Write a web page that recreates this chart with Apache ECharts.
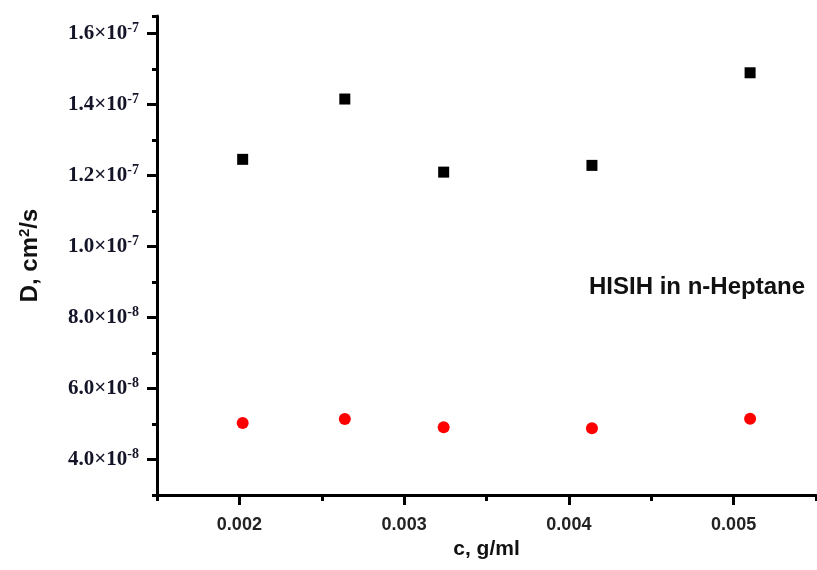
<!DOCTYPE html>
<html>
<head>
<meta charset="utf-8">
<script src="https://cdn.jsdelivr.net/npm/echarts@6/dist/echarts.min.js"></script>
<style>html,body{margin:0;padding:0;background:#fff}#c{width:817px;height:570px}</style>
</head>
<body>
<div id="c"></div>
<script>
const concentrations = [0.00202, 0.00264, 0.00324, 0.00414, 0.00510];
const seriesBlack = [1.246e-7, 1.416e-7, 1.210e-7, 1.229e-7, 1.490e-7];
const seriesRed = [5.03e-8, 5.14e-8, 4.91e-8, 4.88e-8, 5.15e-8];
const xMajorTicks = [0.002, 0.003, 0.004, 0.005];
const xTickLabels = ['0.002', '0.003', '0.004', '0.005'];
const yMajorTicks = [4e-8, 6e-8, 8e-8, 1e-7, 1.2e-7, 1.4e-7, 1.6e-7];
const yTickLabels = [['4.0', '-8'], ['6.0', '-8'], ['8.0', '-8'], ['1.0', '-7'], ['1.2', '-7'], ['1.4', '-7'], ['1.6', '-7']];
const annotation = 'HISIH in n-Heptane';

const chart = echarts.init(document.getElementById('c'));
const grid = {left: 157, top: 16, right: 1, bottom: 75};
function yLabel(v) {
  let best = -1, bd = 1;
  yMajorTicks.forEach((t, i) => { const d = Math.abs(t - v); if (d < bd) { bd = d; best = i; } });
  if (best < 0 || bd > 1e-10) return '';
  return '{m|' + yTickLabels[best][0] + '×10}{e|' + yTickLabels[best][1] + '}';
}
function xLabel(v) {
  let s = '';
  xMajorTicks.forEach((t, i) => { if (Math.abs(t - v) < 1e-9) s = xTickLabels[i]; });
  return s;
}
const sans = 'Liberation Sans, Arial, sans-serif';
const serif = 'Liberation Serif, Times New Roman, serif';
chart.setOption({
  animation: false,
  backgroundColor: '#fff',
  grid: grid,
  xAxis: [{
    type: 'value', min: 0.0015, max: 0.0055, position: 'bottom',
    axisLine: {show: true, lineStyle: {color: '#000', width: 3}},
    axisTick: {show: true, length: 10, lineStyle: {color: '#000', width: 3}, customValues: xMajorTicks},
    axisLabel: {customValues: xMajorTicks, formatter: xLabel, margin: 21, fontFamily: 'Liberation Sans Narrow, Arial Narrow, Liberation Sans, sans-serif', fontWeight: 'bold', fontSize: 18, color: '#222'},
    splitLine: {show: false},
    name: 'c, g/ml', nameLocation: 'middle', nameGap: 44,
    nameTextStyle: {fontFamily: sans, fontWeight: 'bold', fontSize: 21, color: '#111'}
  }, {
    type: 'value', min: 0.0015, max: 0.0055, interval: 0.0005, position: 'bottom',
    axisLine: {show: false},
    axisTick: {show: true, length: 6, lineStyle: {color: '#000', width: 3}},
    axisLabel: {show: false}, splitLine: {show: false}
  }],
  yAxis: [{
    type: 'value', min: 3e-8, max: 1.65e-7, position: 'left',
    axisLine: {show: true, lineStyle: {color: '#000', width: 3}},
    axisTick: {show: true, length: 10, lineStyle: {color: '#000', width: 3}, customValues: yMajorTicks},
    axisLabel: {customValues: yMajorTicks, formatter: yLabel, margin: 18,
      rich: {
        m: {fontFamily: serif, fontWeight: 'bold', fontSize: 21, color: '#141428'},
        e: {fontFamily: serif, fontWeight: 'bold', fontSize: 14, color: '#141428', padding: [0, 0, 10, 0]}
      }},
    splitLine: {show: false},
    name: '{a|D, cm}{s|2}{a|/s}', nameLocation: 'middle', nameGap: 113, nameRotate: 90,
    nameTextStyle: {
      rich: {
        a: {fontFamily: sans, fontWeight: 'bold', fontSize: 24, color: '#111'},
        s: {fontFamily: sans, fontWeight: 'bold', fontSize: 15, color: '#111', padding: [0, 0, 12, 0]}
      }
    }
  }, {
    type: 'value', min: 3e-8, max: 1.65e-7, interval: 1e-8, position: 'left',
    axisLine: {show: false},
    axisTick: {show: true, length: 5, lineStyle: {color: '#000', width: 3}},
    axisLabel: {show: false}, splitLine: {show: false}
  }],
  series: [{
    type: 'scatter', xAxisIndex: 0, yAxisIndex: 0,
    data: concentrations.map((c, i) => [c, seriesBlack[i]]),
    symbol: 'rect', symbolSize: 11, itemStyle: {color: '#000', opacity: 1}
  }, {
    type: 'scatter', xAxisIndex: 0, yAxisIndex: 0,
    data: concentrations.map((c, i) => [c, seriesRed[i]]),
    symbol: 'circle', symbolSize: 12, itemStyle: {color: '#ff0000', opacity: 1}
  }],
  graphic: [{
    type: 'text', left: 589, top: 275,
    style: {text: annotation, fontFamily: sans, fontWeight: 'bold', fontSize: 24, fill: '#111'}
  }]
});
</script>
</body>
</html>
